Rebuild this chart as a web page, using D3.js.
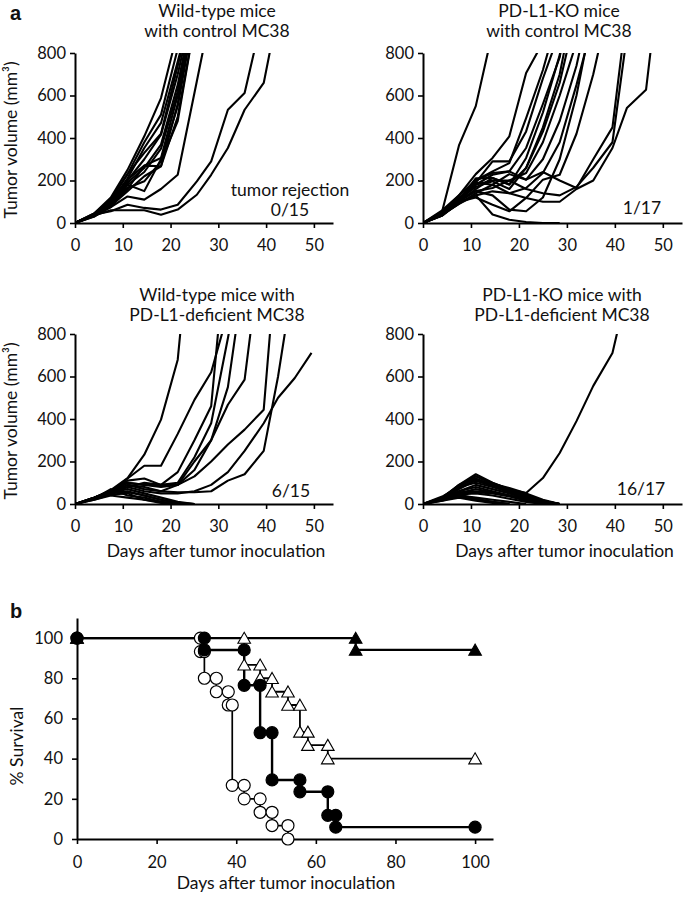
<!DOCTYPE html>
<html><head><meta charset="utf-8">
<script src="https://cdn.jsdelivr.net/npm/d3@7"></script>
<style>
body{margin:0;background:#fff}
svg{display:block}
text{font-family:Lato,'Open Sans',sans-serif;fill:#111}
</style>
</head><body>
<svg id="chart" width="685" height="899"></svg>
<script>
// ---------- Panel a: tumor growth (mm3) ----------
const daysWTctrl = [0,4,7.5,11,14.5,18,21.5,25.5,28.5,32,35.5,39.5,42.5];
const wtCtrl = [
  [0,45,120,250,408,588,900],
  [0,40,110,230,380,510,820],
  [0,40,100,210,353,471,760,1100],
  [0,35,95,200,300,416,700,1100],
  [0,40,90,190,259,369,650,1100],
  [0,30,85,160,270,306,600,1100],
  [0,35,80,150,220,267,560,1100],
  [0,40,100,204,270,267,500,1000],
  [0,35,90,165,196,290,480,1000],
  [0,30,75,180,150,300,550,1050],
  [0,45,110,230,330,420,740,1100],
  [0,35,85,180,240,350,620,1100],
  [0,40,75,125,110,160,227,667,1000],
  [0,40,55,86,71,63,86,196,290,533,612,1000],
  [0,35,60,60,60,39,63,133,227,353,533,659,1000]
];

const daysKOctrl = [0,4,7.5,11,14.5,18,21.5,25,28.5,32,35.5,39.5,42.5,46.5,49.5];
const koCtrl = [
  [0,55,365,550,900],
  [0,60,130,230,306,408,706,850,1300],
  [0,50,130,200,243,282,494,720,1000],
  [0,45,110,190,290,290,431,680,900],
  [0,40,120,180,227,243,353,560,780,1200],
  [0,45,100,160,212,180,306,520,790,1200],
  [0,40,110,170,196,160,259,450,700,1100],
  [0,35,100,150,165,200,235,380,600,850,1200],
  [0,40,90,140,180,230,204,300,480,740,1100],
  [0,35,95,130,149,140,165,235,380,650,950],
  [0,40,100,120,86,55,118,204,227,420,700,1100],
  [0,40,110,150,130,63,55,120,300,600,1000],
  [0,45,110,200,235,243,204,240,200,165,300,450,1000],
  [0,40,110,180,200,200,160,140,130,170,260,380,880],
  [0,35,100,190,180,140,118,100,100,160,200,353,541,627,1200],
  [0,40,90,130,40,15,5,0,0],
  [0,45,110,210,212,182,259,430,660,1000]
];

const daysWTdef = [0,4,7.5,11,14.5,18,21.5,25,28.5,32,35.5,39.5,42.5,46,49.5];
const wtDef = [
  [0,30,65,122,232,397,679,1500],
  [0,30,60,120,180,180,330,490,620,900],
  [0,25,60,100,90,90,150,300,460,1300],
  [0,25,50,80,100,90,100,220,380,780,1200],
  [0,30,60,100,90,80,90,200,300,467,585,1300],
  [0,25,50,90,80,60,90,130,200,280,350,444,1265],
  [0,25,55,90,70,60,55,55,60,110,140,250,600,1100],
  [0,25,55,80,60,50,50,60,90,150,250,380,500,593,711],
  [0,30,60,110,120,90,90,160,300,550,1100],
  [0,30,60,55,40,20,5,0],
  [0,25,70,40,30,10,0],
  [0,20,45,50,20,5,0],
  [0,25,55,70,50,30,10,0],
  [0,20,40,30,20,10,0],
  [0,30,50,60,40,20,5,0]
];

const daysKOdef = [0,4,7.5,11,14.5,18,21.5,25,28.5,32,35.5,39.5,42.5];
const koDef = [
  [0,25,90,130,99,68,52,122,240,390,556,711,1000],
  [0,30,90,140,100,70,40,15,0],
  [0,35,80,130,95,75,50,20,0],
  [0,30,85,120,90,65,45,15,0],
  [0,25,70,110,85,60,35,10,0],
  [0,30,80,100,80,55,30,10,0],
  [0,25,60,90,70,50,25,5,0],
  [0,20,55,60,55,40,20,5,0],
  [0,25,50,55,50,35,15,0],
  [0,20,45,50,40,25,10,0],
  [0,15,40,30,20,10,0],
  [0,20,35,20,10,0],
  [0,15,30,15,5,0],
  [0,20,45,25,10,0],
  [0,25,60,80,60,40,20,5,0],
  [0,30,75,115,90,70,40,15,0],
  [0,20,50,70,55,40,20,5,0]
];

const volTicks = [0,200,400,600,800];
const dayTicksA = [0,10,20,30,40,50];

// ---------- Panel b: survival ----------
const survDaysOpenCircle = [0,31,31,32,32,35,35,38,38,39,39,42,42,46,46,49,49,53,53];
const survOpenCircle     = [100,100,93.3,93.3,80,80,73.3,73.3,66.7,66.7,26.7,26.7,20,20,13.3,13.3,6.7,6.7,0];
const survDaysOpenTri    = [0,42,42,46,46,49,49,53,53,56,56,58,58,63,63,100];
const survOpenTri        = [100,100,86.7,86.7,80,80,73.3,73.3,66.7,66.7,53.3,53.3,46.7,46.7,40,40];
const survDaysFilledCircle = [0,32,32,42,42,46,46,49,49,56,56,63,63,65,65,100];
const survFilledCircle     = [100,100,94.1,94.1,76.5,76.5,52.9,52.9,29.4,29.4,23.5,23.5,11.8,11.8,5.9,5.9];
const survDaysFilledTri  = [0,70,70,100];
const survFilledTri      = [100,100,94.1,94.1];
const survTicks = [0,20,40,60,80,100];
const dayTicksB = [0,20,40,60,80,100];

const FS = '17.5px', TFS = '16.5px';
const svg = d3.select('#chart');

function styleAxis(g){
  g.select('.domain').attr('stroke','#000').attr('stroke-width',2);
  g.selectAll('.tick line').attr('stroke','#000').attr('stroke-width',1.6);
  g.selectAll('.tick text').style('font-family',"Lato,'Open Sans',sans-serif").style('font-size',TFS).attr('fill','#111');
}

const panels = [
  {days:daysWTctrl, data:wtCtrl, x0:75, x1:333, yTop:53, yBot:223, title:['Wild-type mice','with control MC38'], tx:217, ty:17, note:'0/15', nx:290, ny:216, extra:'tumor rejection', ylab:true, xlab:false},
  {days:daysKOctrl, data:koCtrl, x0:423, x1:682, yTop:53, yBot:223, title:['PD-L1-KO mice','with control MC38'], tx:559, ty:17, note:'1/17', nx:642, ny:214, ylab:false, xlab:false},
  {days:daysWTdef, data:wtDef, x0:75, x1:333, yTop:334, yBot:504, title:['Wild-type mice with','PD-L1-deficient MC38'], tx:217, ty:301, note:'6/15', nx:291, ny:497, ylab:true, xlab:true},
  {days:daysKOdef, data:koDef, x0:423, x1:682, yTop:334, yBot:504, title:['PD-L1-KO mice with','PD-L1-deficient MC38'], tx:562, ty:301, note:'16/17', nx:641, ny:495, ylab:false, xlab:true}
];

panels.forEach((p,pi)=>{
  const x = d3.scaleLinear().domain([0,54]).range([p.x0,p.x1]);
  const y = d3.scaleLinear().domain([0,800]).range([p.yBot,p.yTop]);
  const cid = 'clip'+pi;
  svg.append('clipPath').attr('id',cid).append('rect')
    .attr('x',p.x0).attr('y',p.yTop).attr('width',p.x1-p.x0).attr('height',p.yBot-p.yTop+2);
  const line = d3.line().x((d,i)=>x(p.days[i])).y(d=>y(d));
  svg.append('g').attr('clip-path',`url(#${cid})`)
    .selectAll('path').data(p.data).join('path')
    .attr('d',line).attr('fill','none').attr('stroke','#000')
    .attr('stroke-width',2.1).attr('stroke-linejoin','round');
  const gy = svg.append('g').attr('transform',`translate(${p.x0},0)`)
    .call(d3.axisLeft(y).tickValues(volTicks).tickSize(5).tickSizeOuter(0).tickPadding(4));
  styleAxis(gy);
  const gx = svg.append('g').attr('transform',`translate(0,${p.yBot})`)
    .call(d3.axisBottom(x).tickValues(dayTicksA).tickSize(5).tickSizeOuter(0).tickPadding(11));
  styleAxis(gx);
  p.title.forEach((t,i)=>{
    svg.append('text').attr('x',p.tx).attr('y',p.ty+i*20).attr('text-anchor','middle')
      .style('font-size',FS).text(t);
  });
  svg.append('text').attr('x',p.nx).attr('y',p.ny).attr('text-anchor','middle').style('font-size',FS).text(p.note);
  if(p.extra){
    svg.append('text').attr('x',p.nx).attr('y',p.ny-20).attr('text-anchor','middle').style('font-size',FS).text(p.extra);
  }
  if(p.ylab){
    svg.append('text').attr('transform',`translate(17,${(p.yTop+p.yBot)/2+2}) rotate(-90)`)
      .attr('text-anchor','middle').style('font-size',FS).text('Tumor volume (mm³)');
  }
  if(p.xlab){
    svg.append('text').attr('x',(p.x0+p.x1)/2+12).attr('y',557).attr('text-anchor','middle')
      .style('font-size',FS).text('Days after tumor inoculation');
  }
});

svg.append('text').attr('x',10).attr('y',20).style('font-family',"'Liberation Sans',Arial,sans-serif")
  .style('font-weight','bold').style('font-size','20px').attr('fill','#000').text('a');
svg.append('text').attr('x',10).attr('y',618).style('font-family',"'Liberation Sans',Arial,sans-serif")
  .style('font-weight','bold').style('font-size','20px').attr('fill','#000').text('b');

// ---------- Panel b drawing ----------
const xb = d3.scaleLinear().domain([0,104.5]).range([77,493]);
const yb = d3.scaleLinear().domain([0,110]).range([839,618]);

const survSeries = [
  {days:survDaysOpenCircle, vals:survOpenCircle, shape:'circle', fill:'#fff', lw:1.7},
  {days:survDaysOpenTri, vals:survOpenTri, shape:'tri', fill:'#fff', lw:1.8},
  {days:survDaysFilledTri, vals:survFilledTri, shape:'tri', fill:'#000', lw:2.2},
  {days:survDaysFilledCircle, vals:survFilledCircle, shape:'circle', fill:'#000', lw:2.4}
];

const gyb = svg.append('g').attr('transform','translate(77,0)')
  .call(d3.axisLeft(yb).tickValues(survTicks).tickSize(5).tickSizeOuter(0).tickPadding(9));
styleAxis(gyb);
const gxb = svg.append('g').attr('transform','translate(0,839)')
  .call(d3.axisBottom(xb).tickValues(dayTicksB).tickSize(5).tickSizeOuter(0).tickPadding(12));
styleAxis(gxb);

survSeries.forEach(s=>{
  const line = d3.line().x((d,i)=>xb(s.days[i])).y(d=>yb(d));
  svg.append('path').datum(s.vals).attr('d',line).attr('fill','none')
    .attr('stroke','#000').attr('stroke-width',s.lw);
});
survSeries.forEach(s=>{
  const pts = s.vals.map((v,i)=>[xb(s.days[i]),yb(v)]);
  const g = svg.append('g');
  if(s.shape==='circle'){
    g.selectAll('circle').data(pts).join('circle')
      .attr('cx',d=>d[0]).attr('cy',d=>d[1]).attr('r',6)
      .attr('fill',s.fill).attr('stroke','#000').attr('stroke-width',1.2);
  } else {
    g.selectAll('path').data(pts).join('path')
      .attr('d',d=>`M${d[0]},${d[1]-5.8}L${d[0]+6.3},${d[1]+5.2}L${d[0]-6.3},${d[1]+5.2}Z`)
      .attr('fill',s.fill).attr('stroke','#000').attr('stroke-width',1.1);
  }
});

svg.append('text').attr('transform','translate(23,746) rotate(-90)').attr('text-anchor','middle')
  .style('font-size',FS).text('% Survival');
svg.append('text').attr('x',286).attr('y',889).attr('text-anchor','middle')
  .style('font-size',FS).text('Days after tumor inoculation');
</script>
</body></html>
